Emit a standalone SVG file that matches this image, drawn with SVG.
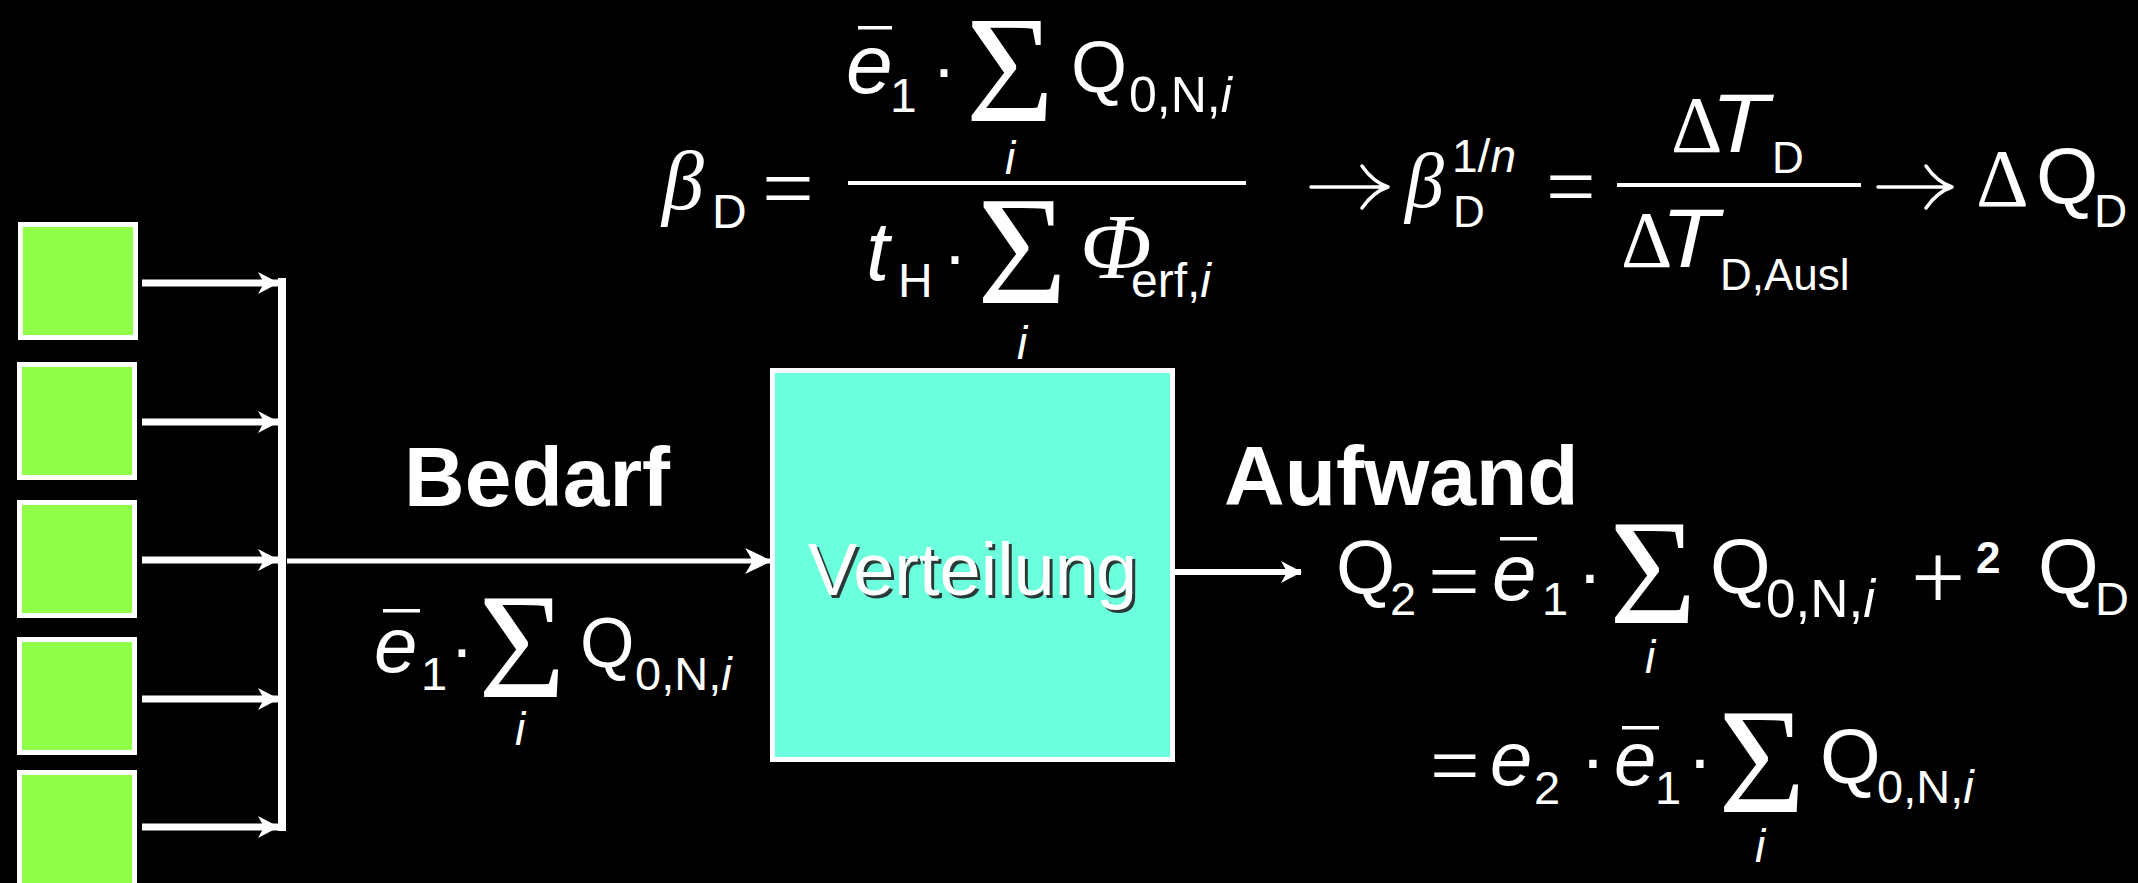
<svg xmlns="http://www.w3.org/2000/svg" width="2138" height="883" viewBox="0 0 2138 883">
<style>
.s{font-family:"Liberation Sans",Arial,sans-serif;fill:#fff}
.r{font-family:"Liberation Serif","Times New Roman",serif;fill:#fff}
.i{font-style:italic}
.b{font-weight:bold}
.m{text-anchor:middle}
.green{fill:#8fff47;stroke:#fff;stroke-width:5}
.wire{stroke:#fff;fill:none}
.bar{fill:#fff}
.arr{stroke:#fff;fill:none;stroke-width:3.5;stroke-linecap:round;stroke-linejoin:round}
</style>
<defs>
<marker id="hb" markerUnits="userSpaceOnUse" markerWidth="24" markerHeight="24" refX="20" refY="11" orient="auto" viewBox="0 0 24 22">
<path d="M0,0 L21,11 L0,22 L6,11 Z" fill="#fff"/>
</marker>
<marker id="hm" markerUnits="userSpaceOnUse" markerWidth="28" markerHeight="28" refX="24" refY="12" orient="auto" viewBox="0 0 26 24">
<path d="M0,0 L25,12 L0,24 L7,12 Z" fill="#fff"/>
</marker>
</defs>
<rect x="0" y="0" width="2138" height="883" fill="#000"/>

<g id="source1"><rect class="green" x="20.5" y="224.5" width="115" height="113"/></g>
<g id="source2"><rect class="green" x="19.5" y="364.5" width="115" height="113"/></g>
<g id="source3"><rect class="green" x="19.5" y="502.5" width="115" height="113"/></g>
<g id="source4"><rect class="green" x="19.5" y="639.5" width="115" height="113"/></g>
<g id="source5"><rect class="green" x="19.5" y="772.5" width="115" height="140"/></g>

<g id="connectors">
<line class="wire" x1="142" y1="283" x2="278" y2="283" stroke-width="7" marker-end="url(#hb)"/>
<line class="wire" x1="142" y1="422" x2="278" y2="422" stroke-width="7" marker-end="url(#hb)"/>
<line class="wire" x1="142" y1="560" x2="278" y2="560" stroke-width="7" marker-end="url(#hb)"/>
<line class="wire" x1="142" y1="699" x2="278" y2="699" stroke-width="7" marker-end="url(#hb)"/>
<line class="wire" x1="142" y1="827" x2="278" y2="827" stroke-width="7" marker-end="url(#hb)"/>
<rect x="278" y="278" width="8" height="553" fill="#fff"/>
<line class="wire" x1="287" y1="561" x2="771" y2="561" stroke-width="5" marker-end="url(#hm)"/>
<line class="wire" x1="1175" y1="572" x2="1301" y2="572" stroke-width="6" marker-end="url(#hb)"/>
</g>

<g id="verteilung">
<rect x="772.5" y="370.5" width="400" height="389" fill="#6bffdd" stroke="#fff" stroke-width="5"/>
<text class="s m" x="975.5" y="598" font-size="74" style="fill:#2a3a36">Verteilung</text>
<text class="s m" x="972.5" y="595" font-size="74">Verteilung</text>
</g>

<g id="label-bedarf">
<text class="s b" x="404" y="506" font-size="84">Bedarf</text>
<rect class="bar" x="383" y="609" width="37" height="3.5"/>
<text class="s i" x="374" y="672" font-size="78">e</text>
<text class="s" x="421" y="690" font-size="47">1</text>
<text class="s m" x="462" y="672" font-size="70">·</text>
<text class="r m" x="522" y="697" font-size="150">Σ</text>
<text class="s i m" x="520" y="745" font-size="46">i</text>
<text class="s" x="580" y="667" font-size="70">Q</text>
<text class="s" x="635" y="690" font-size="47">0,N,<tspan class="i">i</tspan></text>
</g>

<g id="label-aufwand">
<text class="s b" x="1224" y="505" font-size="84">Aufwand</text>
</g>

<g id="formula-beta">
<text class="r i" x="662" y="209" font-size="84">β</text>
<text class="s" x="712" y="228" font-size="48">D</text>
<text class="r" x="762" y="219" font-size="92">=</text>
<rect class="bar" x="848" y="181" width="398" height="4"/>
<rect class="bar" x="858" y="26" width="34" height="3.5"/>
<text class="s i" x="846" y="93" font-size="84">e</text>
<text class="s" x="890" y="112" font-size="48">1</text>
<text class="s m" x="944" y="93" font-size="72">·</text>
<text class="r m" x="1010" y="121" font-size="152">Σ</text>
<text class="s i m" x="1010" y="174" font-size="46">i</text>
<text class="s" x="1071" y="92" font-size="72">Q</text>
<text class="s" x="1129" y="112" font-size="50">0,N,<tspan class="i">i</tspan></text>
<text class="s i" x="866" y="280" font-size="84">t</text>
<text class="s" x="898" y="297" font-size="48">H</text>
<text class="s m" x="955" y="280" font-size="72">·</text>
<text class="r m" x="1022" y="303" font-size="155">Σ</text>
<text class="s i m" x="1022" y="359" font-size="46">i</text>
<text class="r i" x="1080" y="278" font-size="94">Φ</text>
<text class="s" x="1131" y="297" font-size="48">erf,<tspan class="i">i</tspan></text>
</g>

<g id="formula-dT">
<path class="arr" d="M1311,187 H1386 M1362,166 Q1373,182 1388,187 Q1373,192 1362,208"/>
<text class="r i" x="1405" y="207" font-size="78">β</text>
<text class="s" x="1452" y="172" font-size="46">1/<tspan class="i">n</tspan></text>
<text class="s" x="1453" y="227" font-size="44">D</text>
<text class="r" x="1546" y="216" font-size="88">=</text>
<rect class="bar" x="1617" y="183" width="244" height="4"/>
<text class="r" x="1671" y="152" font-size="80">Δ</text>
<text class="s i" transform="translate(1711,152) scale(1.12,1)" font-size="84">T</text>
<text class="s" x="1772" y="173" font-size="44">D</text>
<text class="r" x="1621" y="267" font-size="80">Δ</text>
<text class="s i" transform="translate(1661,267) scale(1.12,1)" font-size="84">T</text>
<text class="s" x="1720" y="290" font-size="44">D,Ausl</text>
<path class="arr" d="M1878,187 H1950 M1926,166 Q1937,182 1952,187 Q1937,192 1926,208"/>
<text class="r" x="1976" y="206" font-size="82">Δ</text>
<text class="s" x="2036" y="204" font-size="80">Q</text>
<text class="s" x="2094" y="227" font-size="46">D</text>
</g>

<g id="formula-Q2">
<text class="s" x="1336" y="593" font-size="76">Q</text>
<text class="s" x="1390" y="615" font-size="47">2</text>
<text class="r" x="1428" y="612" font-size="92">=</text>
<rect class="bar" x="1500" y="537" width="37" height="3.5"/>
<text class="s i" x="1492" y="600" font-size="80">e</text>
<text class="s" x="1542" y="615" font-size="47">1</text>
<text class="s m" x="1590" y="600" font-size="76">·</text>
<text class="r m" x="1653" y="623" font-size="150">Σ</text>
<text class="s i m" x="1650" y="673" font-size="46">i</text>
<text class="s" x="1710" y="593" font-size="78">Q</text>
<text class="s" x="1766" y="617" font-size="53">0,N,<tspan class="i">i</tspan></text>
<text class="r m" x="1938" y="609" font-size="96">+</text>
<text class="s b" x="1976" y="573" font-size="44">2</text>
<text class="s" x="2038" y="593" font-size="78">Q</text>
<text class="s" x="2095" y="615" font-size="47">D</text>
<text class="r" x="1430" y="795" font-size="88">=</text>
<text class="s i" x="1490" y="785" font-size="76">e</text>
<text class="s" x="1534" y="804" font-size="47">2</text>
<text class="s m" x="1593" y="785" font-size="76">·</text>
<rect class="bar" x="1622" y="726" width="37" height="3.5"/>
<text class="s i" x="1614" y="785" font-size="76">e</text>
<text class="s" x="1655" y="804" font-size="47">1</text>
<text class="s m" x="1700" y="785" font-size="76">·</text>
<text class="r m" x="1762" y="812" font-size="150">Σ</text>
<text class="s i m" x="1760" y="862" font-size="46">i</text>
<text class="s" x="1820" y="783" font-size="78">Q</text>
<text class="s" x="1877" y="803" font-size="47">0,N,<tspan class="i">i</tspan></text>
</g>
</svg>
